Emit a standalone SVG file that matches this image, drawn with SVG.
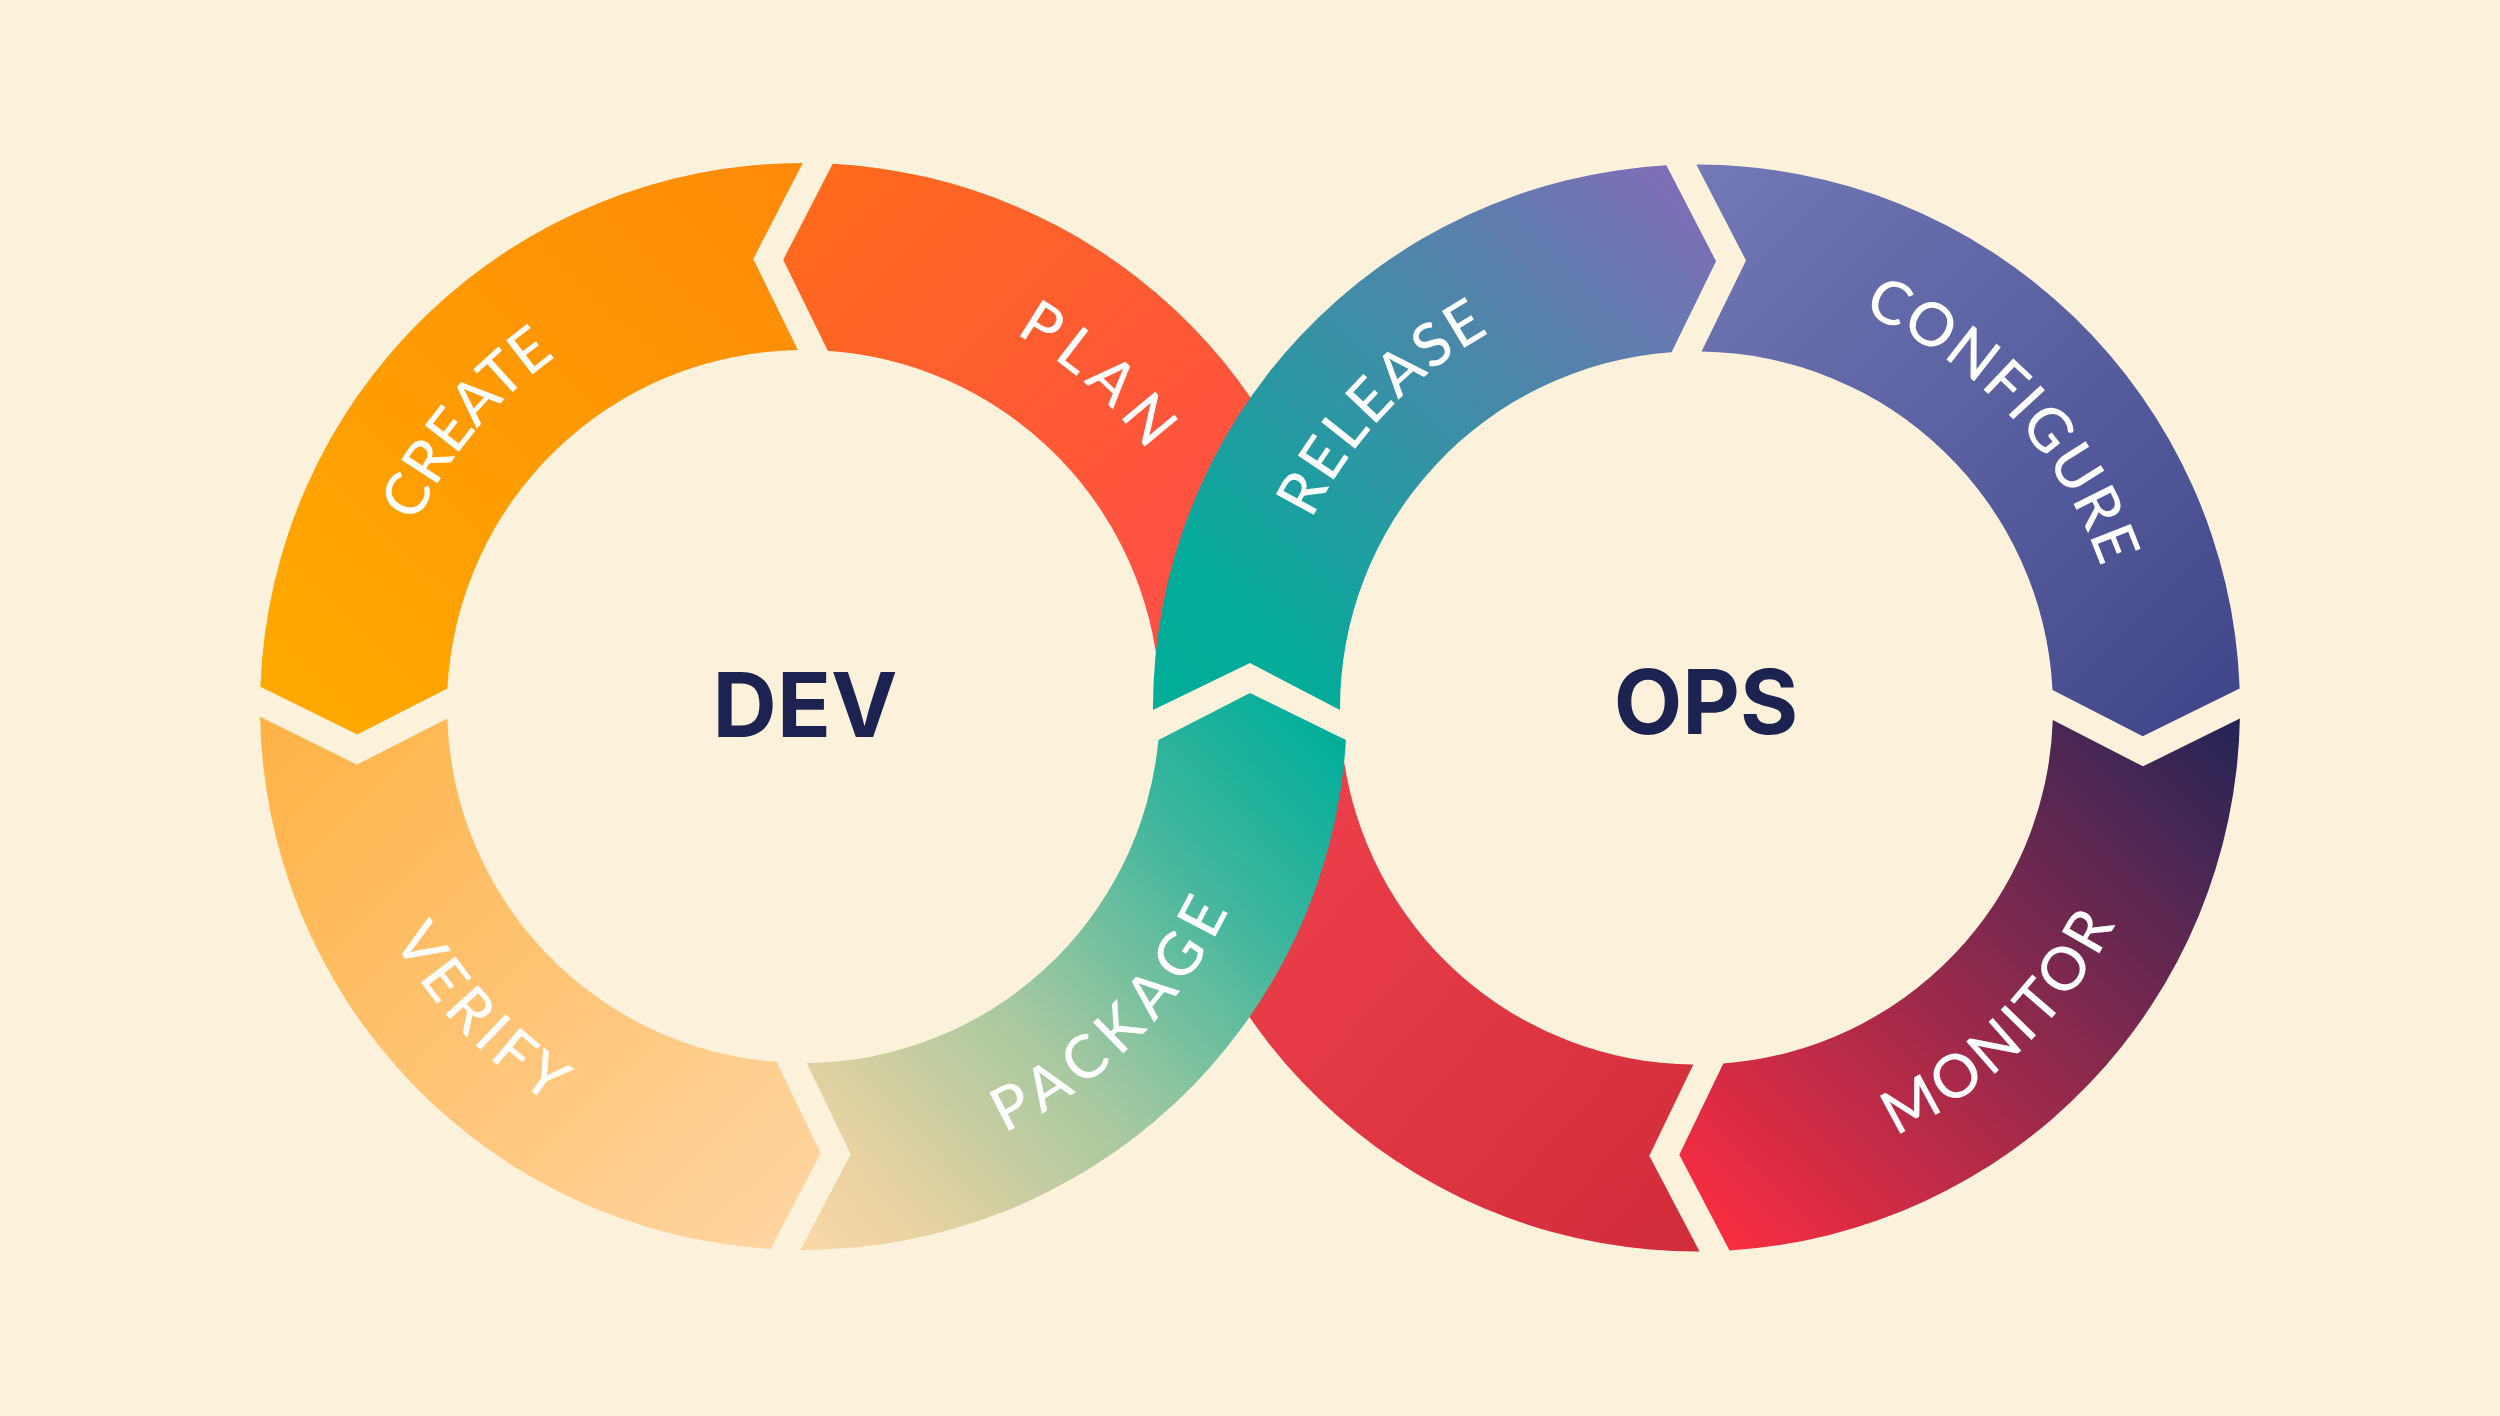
<svg xmlns="http://www.w3.org/2000/svg" xmlns:xlink="http://www.w3.org/1999/xlink" width="2500" height="1416" viewBox="0 0 2500 1416">
  <style>
    .lbl { font-family: Lato, "Noto Sans", sans-serif; font-size: 60px; font-weight: 500; fill: #FFFFFF; }
    .hub { font-family: Inter, "Noto Sans", sans-serif; font-size: 89px; font-weight: 700; fill: #1C2350; }
  </style>
  <defs>
    <linearGradient id="gCreate" gradientUnits="userSpaceOnUse" x1="300" y1="700" x2="800" y2="170">
      <stop offset="0" stop-color="#FFA900"/><stop offset="1" stop-color="#FF8A08"/>
    </linearGradient>
    <linearGradient id="gPlan" gradientUnits="userSpaceOnUse" x1="830" y1="170" x2="1300" y2="640">
      <stop offset="0" stop-color="#FF6A1C"/><stop offset="1" stop-color="#FF4A4E"/>
    </linearGradient>
    <linearGradient id="gVerify" gradientUnits="userSpaceOnUse" x1="260" y1="720" x2="780" y2="1250">
      <stop offset="0" stop-color="#FFB244"/><stop offset="1" stop-color="#FFD5A2"/>
    </linearGradient>
    <linearGradient id="gPackage" gradientUnits="userSpaceOnUse" x1="790" y1="1250" x2="1340" y2="740">
      <stop offset="0" stop-color="#FCD9A7"/><stop offset="0.15" stop-color="#E8D2A1"/><stop offset="0.45" stop-color="#A3C8A0"/><stop offset="0.75" stop-color="#3FB69D"/><stop offset="1" stop-color="#00AE9A"/>
    </linearGradient>
    <linearGradient id="gRelease" gradientUnits="userSpaceOnUse" x1="1170" y1="700" x2="1680" y2="170">
      <stop offset="0" stop-color="#00AE9A"/><stop offset="0.15" stop-color="#04AB9A"/><stop offset="1" stop-color="#806CB6"/>
    </linearGradient>
    <linearGradient id="gConfigure" gradientUnits="userSpaceOnUse" x1="1700" y1="165" x2="2240" y2="700">
      <stop offset="0" stop-color="#7379B6"/><stop offset="1" stop-color="#41468A"/>
    </linearGradient>
    <linearGradient id="gMonitor" gradientUnits="userSpaceOnUse" x1="2240" y1="700" x2="1700" y2="1250">
      <stop offset="0" stop-color="#1F2558"/><stop offset="1" stop-color="#FF2D40"/>
    </linearGradient>
    <linearGradient id="gRed" gradientUnits="userSpaceOnUse" x1="1700" y1="1250" x2="1160" y2="770">
      <stop offset="0" stop-color="#D12C3A"/><stop offset="1" stop-color="#F2434E"/>
    </linearGradient>
    <path id="cw" d="M -371.1 -214.25 A 428.5 428.5 0 0 1 371.1 -214.25"/>
    <path id="ccw" d="M -408.33 235.75 A 471.5 471.5 0 0 0 408.33 235.75"/>
  </defs>

  <rect width="2500" height="1416" fill="#FCF2DC"/>

  <g id="plan-band">
    <path fill="url(#gPlan)" d="M 832.72 163.79 A 543.5 543.5 0 0 1 1342.95 640.26 L 1157.34 663.05 A 356.5 356.5 0 0 0 827.82 350.83 L 783.19 259.82 Z"/>
  </g>
  <g id="return-band">
    <path fill="url(#gRed)" d="M 1699.52 1251.49 A 543.5 543.5 0 0 1 1157.05 774.24 L 1342.66 751.45 A 356.5 356.5 0 0 0 1693.32 1064.49 L 1649.32 1155.81 Z"/>
  </g>
  <g id="create">
    <path fill="url(#gCreate)" d="M 260.36 686.76 A 543.5 543.5 0 0 1 802.73 163.00 L 753.20 259.03 L 797.83 350.05 A 356.5 356.5 0 0 0 447.46 688.39 L 357.24 734.61 Z"/>
    <text class="lbl" transform="translate(803.5 706.5) rotate(-50)"><textPath href="#cw" startOffset="50%" text-anchor="middle" textLength="220" lengthAdjust="spacing">CREATE</textPath></text>
  </g>
  <g id="verify">
    <path fill="url(#gVerify)" d="M 770.50 1249.00 A 543.5 543.5 0 0 1 260.10 716.76 L 356.98 764.61 L 447.20 718.39 A 356.5 356.5 0 0 0 776.70 1061.99 L 820.70 1153.32 Z"/>
    <text class="lbl" transform="translate(803.5 706.5) rotate(46.5)"><textPath href="#ccw" startOffset="50%" text-anchor="middle" textLength="230" lengthAdjust="spacing">VERIFY</textPath></text>
  </g>
  <g id="configure">
    <path fill="url(#gConfigure)" d="M 1696.32 164.50 A 543.5 543.5 0 0 1 2239.65 688.54 L 2142.75 736.34 L 2052.55 690.08 A 356.5 356.5 0 0 0 1701.55 351.54 L 1746.02 260.44 Z"/>
    <text class="lbl" transform="translate(1696.5 708) rotate(46.8)"><textPath href="#cw" startOffset="50%" text-anchor="middle" textLength="359" lengthAdjust="spacing">CONFIGURE</textPath></text>
  </g>
  <g id="monitor">
    <path fill="url(#gMonitor)" d="M 2239.90 718.54 A 543.5 543.5 0 0 1 1729.50 1250.50 L 1679.30 1154.82 L 1723.30 1063.49 A 356.5 356.5 0 0 0 2052.80 720.08 L 2142.99 766.34 Z"/>
    <text class="lbl" transform="translate(1696.5 708) rotate(-43.8)"><textPath href="#ccw" startOffset="50%" text-anchor="middle" textLength="310" lengthAdjust="spacing">MONITOR</textPath></text>
  </g>
  <g id="plan">
    <text class="lbl" transform="translate(803.5 706.5) rotate(41.5)"><textPath href="#cw" startOffset="50%" text-anchor="middle" textLength="178" lengthAdjust="spacing">PLAN</textPath></text>
  </g>
  <g id="package">
    <path fill="url(#gPackage)" d="M 1345.97 740 A 543.5 543.5 0 0 1 800.48 1249.99 L 850.68 1154.31 L 806.68 1062.99 A 356.5 356.5 0 0 0 1158.42 740 L 1250 693 Z"/>
    <text class="lbl" transform="translate(803.5 706.5) rotate(-44.8)"><textPath href="#ccw" startOffset="50%" text-anchor="middle" textLength="322" lengthAdjust="spacing">PACKAGE</textPath></text>
  </g>
  <g id="release">
    <path fill="url(#gRelease)" d="M 1153.00 710 A 543.5 543.5 0 0 1 1666.34 165.34 L 1716.03 261.28 L 1671.56 352.37 A 356.5 356.5 0 0 0 1340.01 710 L 1250 663 Z"/>
    <text class="lbl" transform="translate(1696.5 708) rotate(-46.4)"><textPath href="#cw" startOffset="50%" text-anchor="middle" textLength="262" lengthAdjust="spacing">RELEASE</textPath></text>
  </g>
  <g id="dev">
    <text class="hub" x="805" y="737" text-anchor="middle">DEV</text>
  </g>
  <g id="ops">
    <text class="hub" x="1706" y="734" text-anchor="middle">OPS</text>
  </g>
  <g id="connectors"></g>
</svg>
